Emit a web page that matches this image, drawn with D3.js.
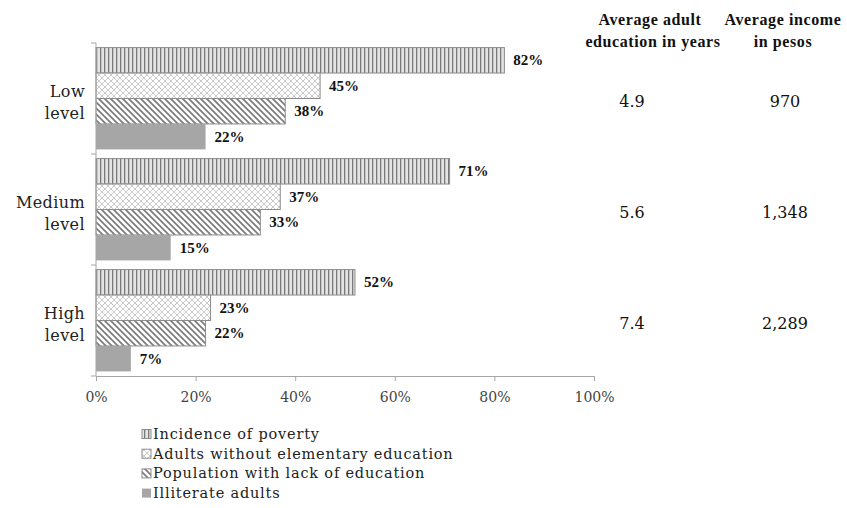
<!DOCTYPE html>
<html>
<head>
<meta charset="utf-8">
<script src="https://cdn.jsdelivr.net/npm/d3@7"></script>
<style>
  html, body { margin: 0; padding: 0; background: #fff; }
  svg { display: block; }
  text { font-family: "DejaVu Serif", serif; fill: #111; }
  text.bold { font-family: "Liberation Serif", "DejaVu Serif", serif; font-weight: bold; }
</style>
</head>
<body>
<svg id="chart" width="847" height="508"></svg>
<script>
// Municipality groups by level and their indicators (share of population)
const groups = ["Low level", "Medium level", "High level"];
const seriesNames = [
  "Incidence of poverty",
  "Adults without elementary education",
  "Population with lack of education",
  "Illiterate adults"
];
const poverty = [82, 71, 52];
const noElementary = [45, 37, 23];
const lackEducation = [38, 33, 22];
const illiterate = [22, 15, 7];
const avgEducationYears = ["4.9", "5.6", "7.4"];
const avgIncomePesos = ["970", "1,348", "2,289"];
const xTicks = [0, 20, 40, 60, 80, 100];

const series = [poverty, noElementary, lackEducation, illiterate];
const patternIds = ["pVert", "pCross", "pDiag", "pSolid"];

const svg = d3.select("#chart");
const margin = { left: 96, right: 594, top: 43, bottom: 376 };

// Fill patterns for the four series
const defs = svg.append("defs");
const vert = defs.append("pattern").attr("id", "pVert").attr("patternUnits", "userSpaceOnUse")
  .attr("width", 4).attr("height", 4);
vert.append("rect").attr("width", 4).attr("height", 4).attr("fill", "#e4e4e4");
vert.append("rect").attr("x", 0).attr("width", 1.3).attr("height", 4).attr("fill", "#7a7a7a");

const cross = defs.append("pattern").attr("id", "pCross").attr("patternUnits", "userSpaceOnUse")
  .attr("width", 6).attr("height", 6);
cross.append("rect").attr("width", 6).attr("height", 6).attr("fill", "#fff");
cross.append("path").attr("d", "M0,0L6,6M6,0L0,6").attr("stroke", "#c4c4c4").attr("stroke-width", 0.9);

const diag = defs.append("pattern").attr("id", "pDiag").attr("patternUnits", "userSpaceOnUse")
  .attr("width", 6).attr("height", 6);
diag.append("rect").attr("width", 6).attr("height", 6).attr("fill", "#fff");
diag.append("path").attr("d", "M-1,-1L7,7M-1,5L1,7M5,-1L7,1").attr("stroke", "#7c7c7c").attr("stroke-width", 1.7);

const solid = defs.append("pattern").attr("id", "pSolid").attr("patternUnits", "userSpaceOnUse")
  .attr("width", 4).attr("height", 4);
solid.append("rect").attr("width", 4).attr("height", 4).attr("fill", "#a6a6a6");

// Scales
const x = d3.scaleLinear().domain([0, 100]).range([margin.left, margin.right]);
const y0 = d3.scaleBand().domain(groups).range([margin.top, margin.bottom]).paddingInner(0).paddingOuter(0);
const y1 = d3.scaleBand().domain(d3.range(series.length)).range([0, y0.bandwidth()]).paddingOuter(0.18).paddingInner(0);

// Bars
const g = svg.append("g");
groups.forEach((grp, gi) => {
  series.forEach((vals, si) => {
    const v = vals[gi];
    const by = y0(grp) + y1(si);
    g.append("rect")
      .attr("x", x(0)).attr("y", by)
      .attr("width", x(v) - x(0)).attr("height", y1.bandwidth())
      .attr("fill", `url(#${patternIds[si]})`)
      .attr("stroke", si === 3 ? "none" : "#8c8c8c").attr("stroke-width", 1);
    g.append("text").attr("class", "bold")
      .attr("x", x(v) + 9).attr("y", by + y1.bandwidth() / 2 + 5)
      .attr("font-size", 15)
      .text(v + "%");
  });
});

// X axis
const xAxis = svg.append("g").attr("transform", `translate(0,${margin.bottom})`)
  .call(d3.axisBottom(x).tickValues(xTicks).tickFormat(d => d + "%").tickSize(5).tickSizeOuter(0));
xAxis.attr("font-family", null);
xAxis.select(".domain").attr("stroke", "#a6a6a6");
xAxis.selectAll(".tick line").attr("stroke", "#a6a6a6");
xAxis.selectAll(".tick text").attr("font-size", 14).style("fill", "#444").attr("dy", "1.3em");

// Y axis with ticks at group boundaries
const yAxis = svg.append("g").attr("transform", `translate(${margin.left},0)`);
yAxis.append("line").attr("x1", 0).attr("x2", 0).attr("y1", margin.top).attr("y2", margin.bottom)
  .attr("stroke", "#a6a6a6");
const boundaries = groups.map(gp => y0(gp)).concat([margin.bottom]);
yAxis.selectAll("line.tk").data(boundaries).join("line").attr("class", "tk")
  .attr("x1", -5).attr("x2", 0).attr("y1", d => d).attr("y2", d => d).attr("stroke", "#a6a6a6");

// Group labels (two lines, right aligned)
groups.forEach(grp => {
  const parts = grp.split(" ");
  const cy = y0(grp) + y0.bandwidth() / 2;
  const t = svg.append("text").attr("text-anchor", "end").attr("font-size", 16).style("fill", "#222")
    .attr("letter-spacing", 0.4);
  t.append("tspan").attr("x", 85).attr("y", cy - 2).text(parts[0]);
  t.append("tspan").attr("x", 85).attr("y", cy + 20).text(parts[1]);
});

// Side columns
const col1 = 650, col2 = 783;
const h1 = svg.append("text").attr("class", "bold").attr("text-anchor", "middle").attr("font-size", 16)
  .attr("letter-spacing", 0.6);
h1.append("tspan").attr("x", col1).attr("y", 25).text("Average adult");
h1.append("tspan").attr("x", col1 + 3).attr("y", 47).text("education in years");
const h2 = svg.append("text").attr("class", "bold").attr("text-anchor", "middle").attr("font-size", 16)
  .attr("letter-spacing", 0.6);
h2.append("tspan").attr("x", col2).attr("y", 25).text("Average income");
h2.append("tspan").attr("x", col2).attr("y", 47).text("in pesos");

groups.forEach((grp, gi) => {
  const cy = y0(grp) + y0.bandwidth() / 2 + 8;
  svg.append("text").attr("x", 632).attr("y", cy).attr("text-anchor", "middle")
    .attr("font-size", 16).text(avgEducationYears[gi]);
  svg.append("text").attr("x", 785).attr("y", cy).attr("text-anchor", "middle")
    .attr("font-size", 16).text(avgIncomePesos[gi]);
});

// Legend
const legend = svg.append("g");
seriesNames.forEach((name, i) => {
  const ly = 434 + i * 19.7;
  legend.append("rect").attr("x", 142).attr("y", ly - 4.5).attr("width", 9).attr("height", 9)
    .attr("fill", `url(#${patternIds[i]})`).attr("stroke", i === 3 ? "none" : "#8c8c8c");
  legend.append("text").attr("x", 153).attr("y", ly + 5).attr("font-size", 14.5)
    .attr("letter-spacing", 0.8).style("fill", "#222").text(name);
});
</script>
</body>
</html>
